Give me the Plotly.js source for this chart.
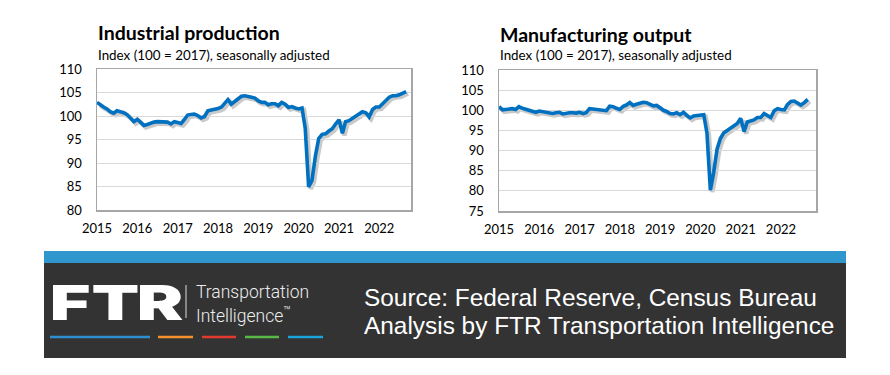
<!DOCTYPE html>
<html>
<head>
<meta charset="utf-8">
<script src="https://cdn.plot.ly/plotly-3.0.1.min.js"></script>
<style>html,body{margin:0;padding:0;background:#fff;}#chart{width:890px;height:375px;}</style>
</head>
<body>
<div id="chart"></div>
<script>
// Monthly observations, Jan 2015 - Sep 2022
const months = [
"2015-01","2015-02","2015-03","2015-04","2015-05","2015-06","2015-07","2015-08","2015-09","2015-10","2015-11","2015-12",
"2016-01","2016-02","2016-03","2016-04","2016-05","2016-06","2016-07","2016-08","2016-09","2016-10","2016-11","2016-12",
"2017-01","2017-02","2017-03","2017-04","2017-05","2017-06","2017-07","2017-08","2017-09","2017-10","2017-11","2017-12",
"2018-01","2018-02","2018-03","2018-04","2018-05","2018-06","2018-07","2018-08","2018-09","2018-10","2018-11","2018-12",
"2019-01","2019-02","2019-03","2019-04","2019-05","2019-06","2019-07","2019-08","2019-09","2019-10","2019-11","2019-12",
"2020-01","2020-02","2020-03","2020-04","2020-05","2020-06","2020-07","2020-08","2020-09","2020-10","2020-11","2020-12",
"2021-01","2021-02","2021-03","2021-04","2021-05","2021-06","2021-07","2021-08","2021-09","2021-10","2021-11","2021-12",
"2022-01","2022-02","2022-03","2022-04","2022-05","2022-06","2022-07","2022-08","2022-09"
];

const industrialProduction = [
102.9,102.3,101.9,101.5,100.9,100.6,101.1,100.9,100.7,100.3,99.6,98.8,
99.3,98.7,98.0,98.2,98.5,98.7,98.8,98.8,98.7,98.7,98.3,98.8,
98.6,98.4,99.2,100.2,100.3,100.4,100.1,99.6,99.9,101.1,101.3,101.4,
101.6,101.9,102.6,103.5,102.5,103.1,103.5,104.2,104.3,104.2,104.0,103.8,
103.2,102.9,102.9,102.4,102.6,102.6,102.2,102.9,102.5,101.8,102.0,101.7,
101.5,101.7,97.4,84.9,86.3,91.5,95.2,96.1,96.2,96.8,97.3,98.3,
99.2,96.3,98.8,99.0,99.5,99.8,100.5,100.9,100.7,99.8,101.4,101.9,
101.9,102.6,103.3,104.0,104.3,104.3,104.5,104.9,105.2
];

const manufacturingOutput = [
100.9,100.1,100.2,100.4,100.4,100.2,100.9,100.5,100.2,99.9,99.7,99.5,
99.8,99.6,99.4,99.3,99.2,99.4,99.5,99.1,99.3,99.4,99.4,99.3,
99.5,99.2,99.4,100.4,100.3,100.2,100.0,99.8,99.9,101.0,100.9,100.5,
100.2,101.0,101.3,101.9,101.2,101.5,101.7,102.0,101.9,101.6,101.1,101.2,
100.5,100.0,99.7,99.2,99.1,99.4,98.9,99.5,98.7,98.1,98.6,98.7,
98.6,98.9,94.4,80.2,84.6,90.4,93.0,94.4,95.0,95.6,96.3,96.7,
98.0,94.7,97.1,97.3,97.6,98.2,98.2,99.2,98.7,98.2,99.9,100.4,
100.2,100.1,101.4,102.2,102.3,101.8,101.3,101.9,102.7
];

const yearTickVals = ["2015-01-01","2016-01-01","2017-01-01","2018-01-01","2019-01-01","2020-01-01","2021-01-01","2022-01-01"];
const yearTickText = ["2015","2016","2017","2018","2019","2020","2021","2022"];

const titles = ["Industrial production", "Manufacturing output"];
const subtitle = "Index (100 = 2017), seasonally adjusted";
const sourceLines = ["Source: Federal Reserve, Census Bureau", "Analysis by FTR Transportation Intelligence"];
const logoLetters = ["F", "T", "R"];
const logoWords = ["Transportation", "Intelligence"];

const W = 890, H = 375;
const px = x => x / W;
const py = y => 1 - y / H;

const lineBlue = "#0070C0";
const shadowCol = "rgba(60,60,60,0.28)";

const baseFamily = "Lato, 'Open Sans', sans-serif";
const tickFont = {family: baseFamily, size: 13, color: "#000"};

function xAxis(dom, end, visible) {
  return {
    domain: dom, type: "date", range: ["2015-01-01", end],
    tickvals: yearTickVals, ticktext: yearTickText,
    showgrid: false, zeroline: false, fixedrange: true,
    showline: visible, mirror: visible, linecolor: "#a6a6a6", linewidth: 1.5,
    ticks: "", showticklabels: visible, tickfont: tickFont, ticklabelstandoff: 6,
    visible: visible
  };
}
function yAxis(dom, range, visible) {
  return {
    domain: dom, range: range, dtick: 5, tick0: 75,
    showgrid: visible, gridcolor: "#d9d9d9", gridwidth: 1, zeroline: false, fixedrange: true,
    showline: visible, mirror: visible, linecolor: "#a6a6a6", linewidth: 1.5,
    ticks: "", showticklabels: visible, tickfont: tickFont, ticklabelstandoff: 11,
    visible: visible
  };
}

const sh = 2; // shadow offset in px
const L = {x0: 97, x1: 411, y0: 69, y1: 210, end: "2022-10-15", range: [80, 110]};
const R = {x0: 499, x1: 816, y0: 70, y1: 211, end: "2022-11-15", range: [75, 110]};

const traces = [
  {x: months, y: industrialProduction, xaxis: "x", yaxis: "y", type: "scatter", mode: "lines",
   line: {color: shadowCol, width: 4.5}, hoverinfo: "skip", showlegend: false},
  {x: months, y: manufacturingOutput, xaxis: "x2", yaxis: "y2", type: "scatter", mode: "lines",
   line: {color: shadowCol, width: 4.5}, hoverinfo: "skip", showlegend: false},
  {x: months, y: industrialProduction, xaxis: "x3", yaxis: "y3", type: "scatter", mode: "lines",
   line: {color: lineBlue, width: 3.6}, name: titles[0], showlegend: false},
  {x: months, y: manufacturingOutput, xaxis: "x4", yaxis: "y4", type: "scatter", mode: "lines",
   line: {color: lineBlue, width: 3.6}, name: titles[1], showlegend: false}
];

const titleFont = {family: baseFamily, size: 19.5, color: "#000", weight: "bold"};
const subFont = {family: baseFamily, size: 13.4, color: "#000"};
const white = "#ffffff";
const logoFont = {family: "Inter, 'DejaVu Sans'", size: 48, color: white, weight: 900};
const wordFont = {family: "Roboto", size: 17.5, color: "#eeeeee", weight: 300};
const srcFont = {family: "'Liberation Sans', Arial", size: 24.4, color: white};

function ann(text, x, y, font, xanchor) {
  return {text: text, x: px(x), y: py(y), xref: "paper", yref: "paper", xanchor: xanchor || "left", yanchor: "middle", showarrow: false, font: font};
}

const annotations = [
  ann("<b>" + titles[0] + "</b>", 96, 33, titleFont),
  ann(subtitle, 96, 55, subFont),
  ann("<b>" + titles[1] + "</b>", 498, 34, titleFont),
  ann(subtitle, 498, 55, subFont),
  ann(logoLetters[0], 70, 302, logoFont, "center"),
  ann(logoLetters[1], 115, 302, logoFont, "center"),
  ann(logoLetters[2], 160, 302, logoFont, "center"),
  ann(logoWords[0], 194, 292, wordFont),
  ann(logoWords[1] + "<sup>™</sup>", 194, 315, wordFont),
  ann(sourceLines[0], 362, 297, srcFont),
  ann(sourceLines[1], 362, 325, srcFont)
];

const shapes = [
  {type: "rect", xref: "paper", yref: "paper", x0: px(44), x1: px(846), y0: py(263), y1: py(251), fillcolor: "#2f97cd", line: {width: 0}, layer: "below"},
  {type: "rect", xref: "paper", yref: "paper", x0: px(44), x1: px(846), y0: py(358), y1: py(263), fillcolor: "#333333", line: {width: 0}, layer: "below"},
  {type: "line", xref: "paper", yref: "paper", x0: px(186), x1: px(186), y0: py(318), y1: py(285), line: {color: "#dddddd", width: 1}},
  {type: "line", xref: "paper", yref: "paper", x0: px(50), x1: px(150), y0: py(337), y1: py(337), line: {color: "#2d8fd0", width: 2.5}},
  {type: "line", xref: "paper", yref: "paper", x0: px(158), x1: px(193), y0: py(337), y1: py(337), line: {color: "#f3922d", width: 2.5}},
  {type: "line", xref: "paper", yref: "paper", x0: px(202), x1: px(236), y0: py(337), y1: py(337), line: {color: "#e23b2e", width: 2.5}},
  {type: "line", xref: "paper", yref: "paper", x0: px(245), x1: px(279), y0: py(337), y1: py(337), line: {color: "#58b947", width: 2.5}},
  {type: "line", xref: "paper", yref: "paper", x0: px(288), x1: px(323), y0: py(337), y1: py(337), line: {color: "#1aa5db", width: 2.5}}
];

const layout = {
  width: W, height: H,
  margin: {l: 0, r: 0, t: 0, b: 0, pad: 0},
  paper_bgcolor: "#ffffff", plot_bgcolor: "rgba(0,0,0,0)",
  showlegend: false,
  xaxis:  Object.assign(xAxis([px(L.x0 + sh), px(L.x1 + sh)], L.end, false), {anchor: "y"}),
  yaxis:  Object.assign(yAxis([py(L.y1 + sh), py(L.y0 + sh)], L.range, false), {anchor: "x"}),
  xaxis2: Object.assign(xAxis([px(R.x0 + sh), px(R.x1 + sh)], R.end, false), {anchor: "y2"}),
  yaxis2: Object.assign(yAxis([py(R.y1 + sh), py(R.y0 + sh)], R.range, false), {anchor: "x2"}),
  xaxis3: Object.assign(xAxis([px(L.x0), px(L.x1)], L.end, true), {anchor: "y3"}),
  yaxis3: Object.assign(yAxis([py(L.y1), py(L.y0)], L.range, true), {anchor: "x3"}),
  xaxis4: Object.assign(xAxis([px(R.x0), px(R.x1)], R.end, true), {anchor: "y4"}),
  yaxis4: Object.assign(yAxis([py(R.y1), py(R.y0)], R.range, true), {anchor: "x4"}),
  annotations: annotations,
  shapes: shapes
};

Plotly.newPlot("chart", traces, layout, {displayModeBar: false, staticPlot: true}).then(function (gd) {
  // widen the logo letters horizontally (the logo typeface is an extended one)
  const groups = gd.querySelectorAll(".annotation");
  [4, 5, 6].forEach(function (i) {
    const t = groups[i] && groups[i].querySelector("text");
    if (t) {
      t.style.transformBox = "fill-box";
      t.style.transformOrigin = "center";
      t.style.transform = "scaleX(1.45)";
    }
  });
});
</script>
</body>
</html>
